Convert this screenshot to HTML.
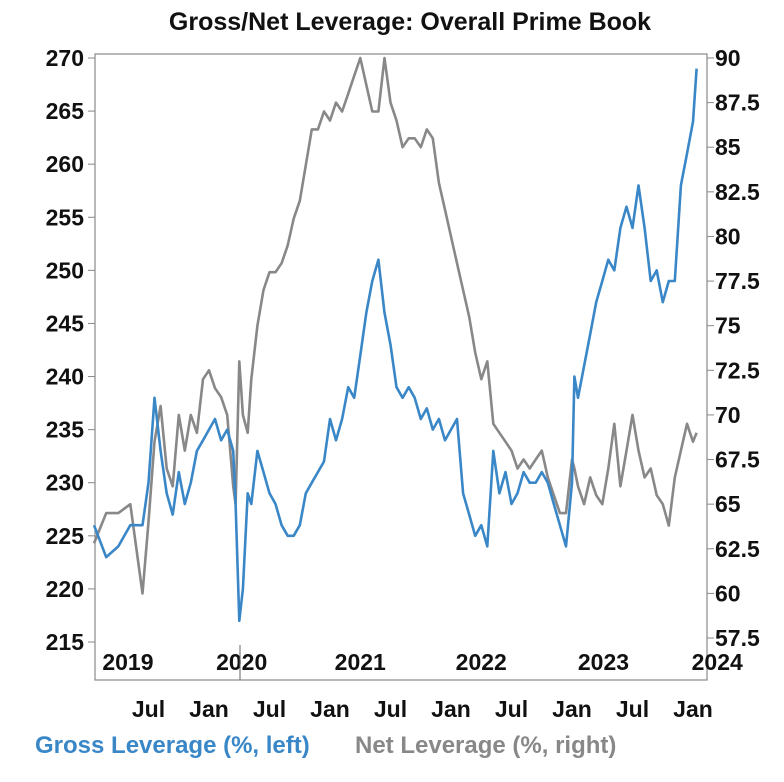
<!DOCTYPE html>
<html><head><meta charset="utf-8"><style>
body{margin:0;background:#fff;}
svg text{font-family:"Liberation Sans Narrow","Liberation Sans",sans-serif;font-weight:bold;}
</style></head><body>
<svg id="chart" width="784" height="777" xmlns="http://www.w3.org/2000/svg">
<text x="410" y="30" text-anchor="middle" font-size="25" fill="#111">Gross/Net Leverage: Overall Prime Book</text>
<rect x="95" y="54" width="612" height="626" fill="none" stroke="#888" stroke-width="1.2"/>
<g id="axes"></g>
<g id="series"></g>
<text x="35" y="753" font-size="24" fill="#3a87c8">Gross Leverage (%, left)</text>
<text x="355" y="753" font-size="24" fill="#888">Net Leverage (%, right)</text>
</svg>
<script>
const times=[2019.05,2019.15,2019.25,2019.35,2019.45,2019.5,2019.55,2019.6,2019.65,2019.7,2019.75,2019.8,2019.85,2019.9,2019.95,2020.0,2020.05,2020.1,2020.15,2020.2,2020.22,2020.25,2020.28,2020.32,2020.35,2020.4,2020.45,2020.5,2020.55,2020.6,2020.65,2020.7,2020.75,2020.8,2020.85,2020.9,2020.95,2021.0,2021.05,2021.1,2021.15,2021.2,2021.25,2021.3,2021.35,2021.4,2021.45,2021.5,2021.55,2021.6,2021.65,2021.7,2021.75,2021.8,2021.85,2021.9,2021.95,2022.0,2022.05,2022.1,2022.15,2022.2,2022.25,2022.3,2022.35,2022.4,2022.45,2022.5,2022.55,2022.6,2022.65,2022.7,2022.75,2022.8,2022.85,2022.9,2022.95,2023.0,2023.02,2023.05,2023.1,2023.15,2023.2,2023.25,2023.3,2023.35,2023.4,2023.45,2023.5,2023.55,2023.6,2023.65,2023.7,2023.75,2023.8,2023.85,2023.9,2023.95,2024.0,2024.03];
const gross=[226,223,224,226,226,230,238,233,229,227,231,228,230,233,234,235,236,234,235,233,228,217,220,229,228,233,231,229,228,226,225,225,226,229,230,231,232,236,234,236,239,238,242,246,249,251,246,243,239,238,239,238,236,237,235,236,234,235,236,229,227,225,226,224,233,229,231,228,229,231,230,230,231,230,228,226,224,230,240,238,241,244,247,249,251,250,254,256,254,258,254,249,250,247,249,249,258,261,264,269];
const net=[62.8,64.5,64.5,65,60,64,68.5,70.5,67,66,70,68,70,69,72,72.5,71.5,71,70,66,65,73,70,69,72,75,77,78,78,78.5,79.5,81,82,84,86,86,87,86.5,87.5,87,88,89,90,88.5,87,87,90,87.5,86.5,85,85.5,85.5,85,86,85.5,83,81.5,80,78.5,77,75.5,73.5,72,73,69.5,69,68.5,68,67,67.5,67,67.5,68,66.5,65.5,64.5,64.5,67.5,67,66,65,66.5,65.5,65,67,69.5,66,68,70,68,66.5,67,65.5,65,63.8,66.5,68,69.5,68.5,69];
const leftTicks=[270,265,260,255,250,245,240,235,230,225,220,215];
const rightTicks=["90","87.5","85","82.5","80","77.5","75","72.5","70","67.5","65","62.5","60","57.5"];
const monthTicks=[2019.5,2020,2020.5,2021,2021.5,2022,2022.5,2023,2023.5,2024];
const monthLabels=["Jul","Jan","Jul","Jan","Jul","Jan","Jul","Jan","Jul","Jan"];
const yearLabels=["2019","2020","2021","2022","2023","2024"];
const yearPos=[2019.33,2020.27,2021.25,2022.25,2023.26,2024.2];

const NS="http://www.w3.org/2000/svg";
const xS=t=>88+121*(t-2019);
const yL=v=>58+(270-v)*584/55;
const yR=v=>58+(90-v)*580/32.5;
const axes=document.getElementById('axes'),series=document.getElementById('series');
function mk(tag,attrs,parent,text){const e=document.createElementNS(NS,tag);for(const k in attrs)e.setAttribute(k,attrs[k]);if(text!==undefined)e.textContent=text;parent.appendChild(e);return e;}
leftTicks.forEach(v=>{const y=yL(v);
 const l=mk('line',{x1:88,x2:95,y1:y,y2:y,stroke:'#888'},axes);
 
 
 const t=mk('text',{x:84,y:y+8,'text-anchor':'end','font-size':23,fill:'#111'},axes,v);
 
 });
rightTicks.forEach(s=>{const y=yR(parseFloat(s));
 const l=mk('line',{x1:707,x2:714,y1:y,y2:y,stroke:'#888'},axes);
 
 
 const t=mk('text',{x:715,y:y+8,'font-size':23,fill:'#111'},axes,s);
 
 });
monthTicks.forEach((m,i)=>{
 const t=mk('text',{x:xS(m),y:717,'text-anchor':'middle','font-size':23,fill:'#111'},axes,monthLabels[i]);
 
 });
yearLabels.forEach((s,i)=>{
 const t=mk('text',{x:xS(yearPos[i]),y:670,'text-anchor':'middle','font-size':23,fill:'#111'},axes,s);
 
 });
const sep=mk('line',{x1:240,x2:240,y1:645,y2:680,stroke:'#666'},axes);


const pn=net.map((v,i)=>xS(times[i]).toFixed(1)+','+yR(v).toFixed(1)).join(' ');
const pg=gross.map((v,i)=>xS(times[i]).toFixed(1)+','+yL(v).toFixed(1)).join(' ');
const ln=mk('polyline',{points:pn,fill:'none',stroke:'#888','stroke-width':2.6,'stroke-linejoin':'round'},series);


const lg=mk('polyline',{points:pg,fill:'none',stroke:'#3a87c8','stroke-width':2.6,'stroke-linejoin':'round'},series);


</script>
</body></html>
